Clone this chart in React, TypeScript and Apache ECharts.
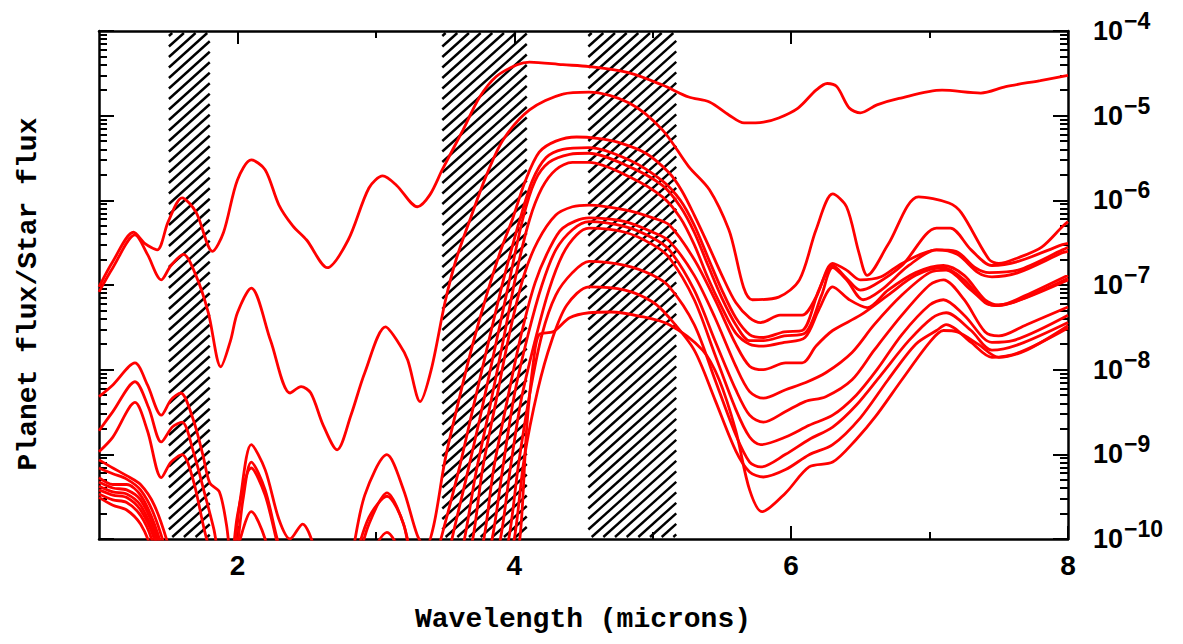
import React, { useEffect, useRef } from "react";
import * as echarts from "echarts";

// wavelength (microns) vs planet/star flux ratio
const curveA = [[1.0,9.5e-8],[1.1,1.9e-7],[1.25,4.2e-7],[1.33,3.1e-7],[1.42,2.6e-7],[1.5,5.6e-7],[1.6,1.07e-6],[1.7,7.3e-7],[1.82,2.5e-7],[1.9,4.2e-7],[2.0,1.74e-6],[2.1,3.0e-6],[2.2,2.3e-6],[2.3,8.8e-7],[2.4,5.0e-7],[2.5,3.4e-7],[2.65,1.6e-7],[2.8,3.4e-7],[2.95,1.4e-6],[3.05,1.94e-6],[3.15,1.5e-6],[3.3,8.4e-7],[3.39,1.16e-6],[3.48,2.3e-6],[3.63,6.8e-6],[3.75,1.66e-5],[3.87,2.9e-5],[4.02,4.0e-5],[4.11,4.3e-5],[4.35,4.0e-5],[4.54,3.8e-5],[4.83,3.2e-5],[5.07,2.3e-5],[5.26,1.66e-5],[5.41,1.45e-5],[5.55,1.02e-5],[5.66,8.2e-6],[5.8,8.4e-6],[5.91,9.4e-6],[6.05,1.23e-5],[6.18,2.0e-5],[6.26,2.4e-5],[6.33,2.2e-5],[6.42,1.23e-5],[6.5,1.08e-5],[6.62,1.34e-5],[6.78,1.6e-5],[7.09,2.0e-5],[7.37,1.85e-5],[7.55,2.2e-5],[7.8,2.6e-5],[8.0,3.0e-5]];
const curveB = [[1.0,8.3e-8],[1.1,1.6e-7],[1.26,3.9e-7],[1.35,2.3e-7],[1.45,1.15e-7],[1.52,1.7e-7],[1.61,2.3e-7],[1.7,1.3e-7],[1.79,4.7e-8],[1.88,1.08e-8],[1.95,2.2e-8],[2.0,4.7e-8],[2.1,9.2e-8],[2.24,2.2e-8],[2.38,5.3e-9],[2.46,6.3e-9],[2.53,5.3e-9],[2.62,2.2e-9],[2.72,1.13e-9],[2.82,2.9e-9],[2.92,9.2e-9],[3.07,3.2e-8],[3.17,2.0e-8],[3.23,1.3e-8],[3.32,4.2e-9],[3.4,1.0e-8],[3.5,6.3e-8],[3.58,2.0e-7],[3.68,5.9e-7],[3.8,2.0e-6],[3.92,5.2e-6],[4.11,1.17e-5],[4.35,1.8e-5],[4.54,1.9e-5],[4.83,1.41e-5],[5.07,6.8e-6],[5.26,2.5e-6],[5.41,1.33e-6],[5.55,4.5e-7],[5.72,6.7e-8],[5.91,7.2e-8],[6.06,1.15e-7],[6.18,4.5e-7],[6.3,1.19e-6],[6.4,8.4e-7],[6.49,2.4e-7],[6.55,1.3e-7],[6.7,3.0e-7],[6.92,1.1e-6],[7.14,9.3e-7],[7.23,7.1e-7],[7.43,2.0e-7],[7.5,1.8e-7],[7.64,2.1e-7],[7.81,2.8e-7],[7.96,4.9e-7],[8.0,5.6e-7]];
const curveC = [[1.0,4.8e-9],[1.1,6.6e-9],[1.26,1.2e-8],[1.35,6.6e-9],[1.45,2.9e-9],[1.52,4.4e-9],[1.59,5.3e-9],[1.68,2.6e-9],[1.75,9.9e-10],[1.8,4.6e-10],[1.87,3.6e-10],[1.92,1.5e-10],[1.96,5e-11],[2.02,2.9e-10],[2.1,1.3e-9],[2.2,6.6e-10],[2.3,1.7e-10],[2.38,1.0e-10],[2.47,1.5e-10],[2.56,7.5e-11],[2.7,1.1e-11],[2.82,5.7e-11],[2.92,3.3e-10],[3.08,9.9e-10],[3.2,3.8e-10],[3.3,1.1e-10],[3.36,7.9e-11],[3.42,1.5e-10],[3.5,8.6e-10],[3.6,4.4e-9],[3.7,2.0e-8],[3.8,7.6e-8],[3.9,2.5e-7],[3.99,6.2e-7],[4.08,1.7e-6],[4.18,3.7e-6],[4.3,5.0e-6],[4.45,5.6e-6],[4.6,5.4e-6],[4.74,4.9e-6],[4.95,3.6e-6],[5.12,2.1e-6],[5.21,1.3e-6],[5.3,6.7e-7],[5.4,3.0e-7],[5.5,1.3e-7],[5.6,6.2e-8],[5.7,4.1e-8],[5.78,3.6e-8],[5.92,4.4e-8],[6.08,4.4e-8],[6.18,7.2e-8],[6.3,1.8e-7],[6.4,1.5e-7],[6.5,1.15e-7],[6.65,1.25e-7],[6.8,1.8e-7],[7.05,2.6e-7],[7.19,2.5e-7],[7.33,1.6e-7],[7.43,1.4e-7],[7.64,1.5e-7],[7.96,2.6e-7],[8.0,2.8e-7]];
const curveD = [[1.0,1.9e-9],[1.1,3.2e-9],[1.26,7.2e-9],[1.36,3.5e-9],[1.45,1.4e-9],[1.53,2.1e-9],[1.6,2.4e-9],[1.68,1.1e-9],[1.76,3.6e-10],[1.83,1.3e-10],[1.9,3.8e-11],[1.98,5.7e-11],[2.04,2.9e-10],[2.1,8.1e-10],[2.2,3.8e-10],[2.3,8.5e-11],[2.45,1.9e-11],[2.65,6.5e-12],[2.85,4.3e-11],[2.95,1.5e-10],[3.08,3.5e-10],[3.2,1.5e-10],[3.3,3.3e-11],[3.38,3.0e-11],[3.47,1.0e-10],[3.6,6.6e-10],[3.7,3.4e-9],[3.8,1.7e-8],[3.9,8.3e-8],[3.97,2.3e-7],[4.04,5.9e-7],[4.13,1.7e-6],[4.23,3.2e-6],[4.35,4.0e-6],[4.54,4.2e-6],[4.83,3.0e-6],[5.07,1.7e-6],[5.2,1.0e-6],[5.3,5.1e-7],[5.4,2.1e-7],[5.5,8.7e-8],[5.6,4.1e-8],[5.7,2.6e-8],[5.8,2.4e-8],[5.95,2.8e-8],[6.08,2.9e-8],[6.2,8.7e-8],[6.3,1.7e-7],[6.4,1.2e-7],[6.5,8.7e-8],[6.6,1.0e-7],[6.8,1.7e-7],[7.05,4.7e-7],[7.15,4.7e-7],[7.3,2.6e-7],[7.45,1.7e-7],[7.64,1.9e-7],[7.96,3.0e-7],[8.0,3.1e-7]];
const curveE = [[1.0,1.07e-9],[1.1,1.6e-9],[1.26,4.1e-9],[1.35,1.9e-9],[1.45,5.3e-10],[1.52,8.1e-10],[1.6,9.9e-10],[1.68,5.0e-10],[1.76,1.3e-10],[1.82,5.7e-11],[1.92,1.9e-11],[2.0,1.9e-10],[2.1,6.9e-10],[2.2,3.3e-10],[2.3,7.5e-11],[2.5,6.5e-12],[2.7,6.5e-12],[2.85,5.7e-11],[2.95,1.8e-10],[3.08,3.2e-10],[3.2,1.5e-10],[3.3,2.5e-11],[3.45,1.5e-11],[3.55,1.0e-10],[3.65,5.0e-10],[3.75,2.6e-9],[3.85,1.5e-8],[3.95,8.7e-8],[4.06,5.9e-7],[4.15,1.7e-6],[4.25,2.8e-6],[4.4,3.5e-6],[4.54,3.6e-6],[4.83,2.5e-6],[5.07,1.5e-6],[5.2,8.4e-7],[5.3,4.2e-7],[5.4,1.7e-7],[5.5,7.0e-8],[5.6,3.4e-8],[5.7,2.2e-8],[5.8,2.2e-8],[5.95,2.5e-8],[6.1,2.7e-8],[6.22,7.6e-8],[6.3,1.6e-7],[6.4,1.15e-7],[6.52,6.7e-8],[6.65,8.7e-8],[6.85,1.7e-7],[7.05,2.6e-7],[7.2,2.3e-7],[7.35,1.4e-7],[7.45,1.25e-7],[7.64,1.4e-7],[7.96,2.4e-7],[8.0,2.5e-7]];
const curveF = [[1.0,8.6e-10],[1.1,6.9e-10],[1.2,5.6e-10],[1.3,4.4e-10],[1.4,2.5e-10],[1.5,8.5e-11],[1.6,1.9e-11],[1.8,6.5e-12],[1.95,3.3e-11],[2.02,1.0e-10],[2.1,2.1e-10],[2.2,1.0e-10],[2.3,1.9e-11],[2.6,2.2e-12],[2.85,1.9e-11],[2.95,5.7e-11],[3.08,1.2e-10],[3.2,5.7e-11],[3.4,8.5e-12],[3.55,2.5e-11],[3.64,1.0e-10],[3.72,5.7e-10],[3.82,3.4e-9],[3.92,2.2e-8],[4.02,1.5e-7],[4.11,5.9e-7],[4.2,1.4e-6],[4.3,2.3e-6],[4.42,2.8e-6],[4.54,2.8e-6],[4.83,1.9e-6],[5.07,1.1e-6],[5.2,6.2e-7],[5.3,3.0e-7],[5.4,1.2e-7],[5.5,5.4e-8],[5.6,2.7e-8],[5.7,2.0e-8],[5.8,1.9e-8],[5.95,2.1e-8],[6.1,2.4e-8],[6.2,5.1e-8],[6.3,9.5e-8],[6.42,6.7e-8],[6.55,5.4e-8],[6.7,8.7e-8],[6.9,1.4e-7],[7.1,1.7e-7],[7.25,1.3e-7],[7.4,6.7e-8],[7.5,5.8e-8],[7.7,7.6e-8],[8.0,1.3e-7]];
const curveG = [[1.0,6.9e-10],[1.1,5.9e-10],[1.2,5.1e-10],[1.3,3.8e-10],[1.4,1.9e-10],[1.5,5.7e-11],[1.6,1.1e-11],[1.8,2.2e-12],[2.5,1.3e-12],[3.2,1.3e-12],[3.5,6.5e-12],[3.62,3.3e-11],[3.7,1.0e-10],[3.77,6.6e-10],[3.87,4.4e-9],[3.97,2.9e-8],[4.07,1.3e-7],[4.17,3.3e-7],[4.3,6.7e-7],[4.42,8.4e-7],[4.54,8.8e-7],[4.8,7.7e-7],[5.0,6.2e-7],[5.12,5.1e-7],[5.3,2.0e-7],[5.45,6.7e-8],[5.6,2.0e-8],[5.7,1.1e-8],[5.8,1.0e-8],[5.96,1.2e-8],[6.08,1.2e-8],[6.18,1.9e-8],[6.3,2.9e-8],[6.5,4.4e-8],[6.7,7.6e-8],[6.9,1.3e-7],[7.1,1.6e-7],[7.25,1.15e-7],[7.4,6.2e-8],[7.5,5.7e-8],[7.7,7.2e-8],[8.0,1.2e-7]];
const curveH = [[1.0,5.3e-10],[1.1,4.4e-10],[1.2,4.4e-10],[1.3,3.3e-10],[1.4,1.5e-10],[1.5,4.3e-11],[1.6,6.5e-12],[2.0,1.3e-12],[3.3,1.3e-12],[3.6,6.5e-12],[3.7,3.3e-11],[3.78,1.0e-10],[3.85,6.6e-10],[3.95,4.4e-9],[4.05,2.6e-8],[4.15,1.06e-7],[4.25,2.6e-7],[4.35,4.7e-7],[4.54,6.2e-7],[4.8,5.6e-7],[5.0,4.2e-7],[5.12,3.3e-7],[5.3,1.3e-7],[5.45,4.1e-8],[5.6,1.1e-8],[5.7,5.5e-9],[5.8,4.6e-9],[5.96,5.8e-9],[6.1,7.0e-9],[6.25,9.2e-9],[6.44,1.6e-8],[6.6,3.4e-8],[6.8,7.6e-8],[7.0,1.4e-7],[7.12,1.5e-7],[7.3,8.7e-8],[7.45,5.8e-8],[7.6,6.2e-8],[8.0,1.15e-7]];
const curveI = [[1.0,4.7e-10],[1.1,4.0e-10],[1.2,3.8e-10],[1.3,2.9e-10],[1.4,1.3e-10],[1.48,4.3e-11],[1.6,4.9e-12],[2.0,1.0e-12],[3.4,1.0e-12],[3.65,6.5e-12],[3.76,3.3e-11],[3.84,1.0e-10],[3.92,7.5e-10],[4.0,5.0e-9],[4.1,2.6e-8],[4.2,1.0e-7],[4.3,2.6e-7],[4.42,4.5e-7],[4.54,5.6e-7],[4.8,4.9e-7],[5.0,3.6e-7],[5.12,2.6e-7],[5.3,8.7e-8],[5.45,2.2e-8],[5.6,5.8e-9],[5.7,2.9e-9],[5.8,2.4e-9],[5.96,3.2e-9],[6.1,4.2e-9],[6.25,4.8e-9],[6.44,7.6e-9],[6.6,1.7e-8],[6.8,4.4e-8],[7.0,1.0e-7],[7.1,1.15e-7],[7.25,6.7e-8],[7.4,2.8e-8],[7.5,2.5e-8],[7.7,3.4e-8],[8.0,5.5e-8]];
const curveJ = [[1.0,4.2e-10],[1.1,3.6e-10],[1.2,3.4e-10],[1.3,2.5e-10],[1.4,1.1e-10],[1.46,4.3e-11],[1.6,3.7e-12],[2.0,1.0e-12],[3.4,1.0e-12],[3.7,6.5e-12],[3.82,3.3e-11],[3.9,1.0e-10],[3.97,6.6e-10],[4.05,4.4e-9],[4.15,2.2e-8],[4.25,8.7e-8],[4.35,2.3e-7],[4.45,3.9e-7],[4.54,4.7e-7],[4.8,4.2e-7],[5.0,3.0e-7],[5.12,2.1e-7],[5.3,6.7e-8],[5.45,1.5e-8],[5.6,3.4e-9],[5.7,1.6e-9],[5.78,1.3e-9],[5.96,1.6e-9],[6.13,2.2e-9],[6.3,2.9e-9],[6.47,5.0e-9],[6.62,1.0e-8],[6.8,2.6e-8],[7.0,5.8e-8],[7.1,6.7e-8],[7.25,4.4e-8],[7.45,2.1e-8],[7.6,2.2e-8],[8.0,4.4e-8]];
const curveK = [[1.0,3.8e-10],[1.1,3.3e-10],[1.2,3.1e-10],[1.3,2.2e-10],[1.4,1.0e-10],[1.45,4.3e-11],[1.6,2.9e-12],[2.0,1.0e-12],[3.5,1.0e-12],[3.75,6.5e-12],[3.88,3.3e-11],[3.96,1.0e-10],[4.03,7.5e-10],[4.11,5.0e-9],[4.2,2.6e-8],[4.3,7.6e-8],[4.42,1.4e-7],[4.54,1.9e-7],[4.8,1.7e-7],[5.0,1.3e-7],[5.12,9.5e-8],[5.3,3.4e-8],[5.45,7.6e-9],[5.6,1.7e-9],[5.7,8.1e-10],[5.78,7.1e-10],[5.96,1.0e-9],[6.13,1.5e-9],[6.3,2.1e-9],[6.47,3.8e-9],[6.65,8.7e-9],[6.85,2.2e-8],[7.02,4.1e-8],[7.12,4.7e-8],[7.3,2.9e-8],[7.45,1.7e-8],[7.65,2.0e-8],[8.0,3.6e-8]];
const curveL = [[1.0,3.4e-10],[1.1,2.9e-10],[1.2,2.7e-10],[1.3,1.9e-10],[1.38,1.0e-10],[1.45,3.3e-11],[1.6,2.2e-12],[2.0,1.0e-12],[3.55,1.0e-12],[3.8,6.5e-12],[3.92,3.3e-11],[4.0,1.0e-10],[4.07,8.6e-10],[4.17,5.8e-9],[4.27,2.2e-8],[4.38,5.8e-8],[4.54,9.5e-8],[4.8,8.7e-8],[5.0,6.3e-8],[5.12,4.1e-8],[5.3,1.7e-8],[5.45,4.4e-9],[5.6,1.1e-9],[5.7,6.2e-10],[5.8,5.4e-10],[5.96,6.6e-10],[6.13,9.9e-10],[6.3,1.3e-9],[6.5,2.7e-9],[6.7,7.6e-9],[6.9,2.0e-8],[7.05,2.9e-8],[7.12,3.4e-8],[7.3,2.1e-8],[7.45,1.4e-8],[7.65,1.6e-8],[8.0,3.1e-8]];
const curveM = [[1.0,3.1e-10],[1.1,2.5e-10],[1.2,2.2e-10],[1.3,1.5e-10],[1.38,7.5e-11],[1.45,2.5e-11],[1.6,1.7e-12],[2.0,1.0e-12],[3.6,1.0e-12],[3.85,6.5e-12],[3.97,3.3e-11],[4.04,1.0e-10],[4.09,2.1e-9],[4.14,1.3e-8],[4.18,2.6e-8],[4.28,2.8e-8],[4.4,4.1e-8],[4.54,4.7e-8],[4.7,4.8e-8],[4.9,4.3e-8],[5.12,3.4e-8],[5.36,1.7e-8],[5.48,7.6e-9],[5.6,1.9e-9],[5.7,3.8e-10],[5.79,2.1e-10],[5.96,3.5e-10],[6.13,7.1e-10],[6.3,8.1e-10],[6.47,1.5e-9],[6.61,2.8e-9],[6.8,7.6e-9],[7.0,2.1e-8],[7.1,2.9e-8],[7.2,2.8e-8],[7.35,2.0e-8],[7.5,1.4e-8],[7.7,1.7e-8],[8.0,3.3e-8]];

const allCurves = [curveA, curveB, curveC, curveD, curveE, curveF, curveG, curveH, curveI, curveJ, curveK, curveL, curveM];

// hatched wavelength bands (microns)
const hatchBands = [[1.505, 1.80], [3.48, 4.09], [4.535, 5.17]];

const xMajorTicks = [2, 4, 6, 8];
const xMinorTicks = [3, 5, 7];
const yDecades = [1e-10, 1e-9, 1e-8, 1e-7, 1e-6, 1e-5, 1e-4];
const yMinorTicks: number[] = [];
for (let k = -10; k < -4; k++) {
  for (let m = 2; m <= 9; m++) yMinorTicks.push(Number((m * Math.pow(10, k)).toPrecision(3)));
}

const xAxisTitle = "Wavelength (microns)";
const yAxisTitle = "Planet flux/Star flux";

const MONO = '"Liberation Mono", monospace';
const SANS = '"Liberation Sans", Arial, sans-serif';

export default function App() {
  const ref = useRef<HTMLDivElement>(null);
  useEffect(() => {
    if (!ref.current) return;
    const chart = echarts.init(ref.current, undefined, { renderer: "svg" });
    const axisLineStyle = { color: "#000", width: 2.5 };
    const tickStyle = { color: "#000", width: 2 };
    const xBase = { type: "value", min: 1, max: 8, splitLine: { show: false } };
    const yBase = { type: "log", logBase: 10, min: 1e-10, max: 1e-4, splitLine: { show: false } };
    const lineSeries = allCurves.map((c) => ({
      type: "line",
      data: c,
      symbol: "none",
      showSymbol: false,
      smooth: 0.3,
      clip: true,
      silent: true,
      z: 3,
      lineStyle: { color: "#ff0000", width: 2.8 },
      xAxisIndex: 0,
      yAxisIndex: 0,
    }));
    const hatchSeries = {
      type: "custom",
      xAxisIndex: 0,
      yAxisIndex: 0,
      silent: true,
      clip: true,
      z: 1,
      data: hatchBands.map((b) => [b[0], b[1], 1e-7]),
      encode: { x: [0, 1], y: 2 },
      renderItem: (params: any, api: any) => {
        const x0 = api.coord([api.value(0), 1e-7])[0];
        const x1 = api.coord([api.value(1), 1e-7])[0];
        const cs = params.coordSys;
        const top = cs.y + 2;
        const bottom = cs.y + cs.height - 2;
        const k = 0.9;
        const step = 10.5;
        const children: any[] = [];
        for (let c = top + 3; c < bottom + k * (x1 - x0); c += step) {
          const xa = Math.max(x0, x0 + (c - bottom) / k);
          const xb = Math.min(x1, x0 + (c - top) / k);
          if (xb <= xa) continue;
          children.push({
            type: "line",
            shape: { x1: xa, y1: c - k * (xa - x0), x2: xb, y2: c - k * (xb - x0) },
            style: { stroke: "#000", lineWidth: 2.4 },
          });
        }
        return { type: "group", children };
      },
    };
    const option: any = {
      animation: false,
      backgroundColor: "#fff",
      grid: { left: 99, right: 115, top: 31, bottom: 105, containLabel: false },
      xAxis: [
        {
          ...xBase,
          position: "bottom",
          axisLine: { show: true, onZero: false, lineStyle: axisLineStyle },
          axisTick: { show: true, inside: true, length: 13, customValues: xMajorTicks, lineStyle: tickStyle },
          axisLabel: { show: true, customValues: xMajorTicks, margin: 12, fontSize: 28, fontWeight: "bold", fontFamily: SANS, color: "#000" },
        },
        {
          ...xBase,
          position: "bottom",
          axisLine: { show: false, onZero: false },
          axisTick: { show: true, inside: true, length: 7, customValues: xMinorTicks, lineStyle: tickStyle },
          axisLabel: { show: false },
        },
        {
          ...xBase,
          position: "top",
          axisLine: { show: true, onZero: false, lineStyle: axisLineStyle },
          axisTick: { show: true, inside: true, length: 13, customValues: xMajorTicks, lineStyle: tickStyle },
          axisLabel: { show: false },
        },
        {
          ...xBase,
          position: "top",
          axisLine: { show: false, onZero: false },
          axisTick: { show: true, inside: true, length: 7, customValues: xMinorTicks, lineStyle: tickStyle },
          axisLabel: { show: false },
        },
      ],
      yAxis: [
        {
          ...yBase,
          position: "left",
          axisLine: { show: true, onZero: false, lineStyle: axisLineStyle },
          axisTick: { show: true, inside: true, length: 15, customValues: yDecades, lineStyle: tickStyle },
          axisLabel: { show: false },
        },
        {
          ...yBase,
          position: "left",
          axisLine: { show: false, onZero: false },
          axisTick: { show: true, inside: true, length: 8, customValues: yMinorTicks, lineStyle: tickStyle },
          axisLabel: { show: false },
        },
        {
          ...yBase,
          position: "right",
          axisLine: { show: true, onZero: false, lineStyle: axisLineStyle },
          axisTick: { show: true, inside: true, length: 15, customValues: yDecades, lineStyle: tickStyle },
          axisLabel: {
            show: true,
            customValues: yDecades,
            margin: 25,
            formatter: (v: number) => {
              const e = v > 0 ? Math.round(Math.log10(v)) : Math.round(v);
              return `{b|10}{s|\u2212${Math.abs(e)}}`;
            },
            rich: {
              b: { fontSize: 27, fontWeight: "bold", fontFamily: SANS, color: "#000" },
              s: { fontSize: 23, fontWeight: "bold", fontFamily: SANS, color: "#000", padding: [0, 0, 20, 1] },
            },
          },
        },
        {
          ...yBase,
          position: "right",
          axisLine: { show: false, onZero: false },
          axisTick: { show: true, inside: true, length: 8, customValues: yMinorTicks, lineStyle: tickStyle },
          axisLabel: { show: false },
        },
      ],
      graphic: [
        {
          type: "text",
          x: 583,
          y: 619,
          style: { text: xAxisTitle, align: "center", verticalAlign: "middle", fontSize: 28, fontWeight: "bold", fontFamily: MONO, fill: "#000" },
        },
        {
          type: "text",
          x: 28,
          y: 294,
          rotation: Math.PI / 2,
          style: { text: yAxisTitle, align: "center", verticalAlign: "middle", fontSize: 28, fontWeight: "bold", fontFamily: MONO, fill: "#000" },
        },
      ],
      series: [hatchSeries, ...lineSeries],
    };
    chart.setOption(option);
    return () => chart.dispose();
  }, []);
  return (
    <div
      ref={ref}
      style={{ position: "fixed", left: 0, top: 0, width: 1183, height: 644, background: "#fff" }}
    />
  );
}
